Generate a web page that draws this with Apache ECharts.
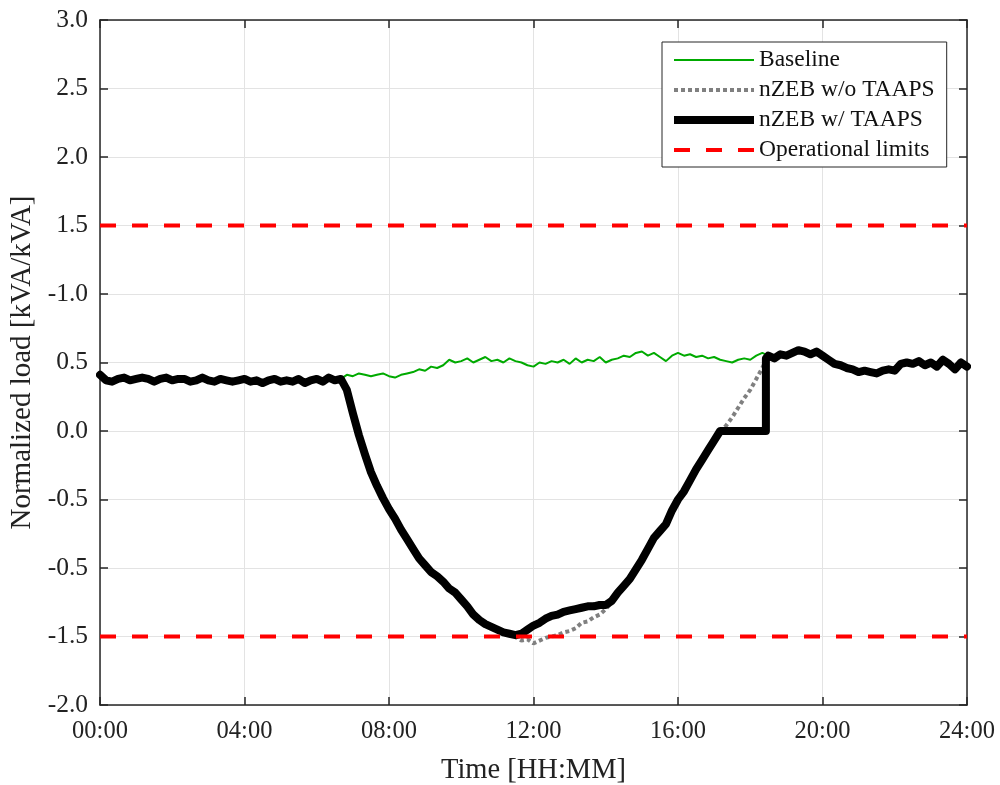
<!DOCTYPE html>
<html>
<head>
<meta charset="utf-8">
<script src="https://cdn.jsdelivr.net/npm/echarts@6/dist/echarts.min.js"></script>
<style>html,body{margin:0;padding:0;background:#fff;}#c{width:1000px;height:785px;}</style>
</head>
<body>
<div id="c"></div>
<script>
// Sampling: every 10 minutes from 00:00 to 24:00 (145 samples)
const stepMinutes = 10;
const xTickLabels = ['00:00','04:00','08:00','12:00','16:00','20:00','24:00'];
const yTickLabels = ['-2.0','-1.5','-0.5','-0.5','0.0','0.5','-1.0','1.5','2.0','2.5','3.0'];
const limitValues = [1.5, -1.5];

const baselineValues = [
0.41,0.37,0.36,0.38,0.39,0.37,0.38,0.39,0.38,0.36,0.38,0.39,0.37,0.38,0.38,0.36,0.37,0.39,0.37,0.36,
0.38,0.37,0.36,0.37,0.38,0.36,0.37,0.35,0.37,0.38,0.36,0.37,0.36,0.38,0.35,0.37,0.38,0.36,0.39,0.37,
0.38,0.41,0.40,0.42,0.41,0.40,0.41,0.42,0.40,0.39,0.41,0.42,0.43,0.45,0.44,0.47,0.46,0.48,0.52,0.50,
0.51,0.53,0.50,0.52,0.54,0.51,0.52,0.50,0.53,0.51,0.50,0.48,0.47,0.50,0.49,0.51,0.50,0.52,0.49,0.53,
0.50,0.52,0.51,0.54,0.50,0.52,0.53,0.55,0.54,0.57,0.58,0.55,0.57,0.54,0.51,0.55,0.57,0.55,0.56,0.54,
0.55,0.53,0.54,0.52,0.51,0.50,0.52,0.53,0.52,0.55,0.57,0.55,0.53,0.56,0.55,0.57,0.59,0.58,0.56,0.58,
0.55,0.52,0.49,0.48,0.46,0.45,0.43,0.44,0.43,0.42,0.44,0.45,0.44,0.49,0.50,0.49,0.51,0.48,0.50,0.47,
0.52,0.49,0.45,0.50,0.47];

const withoutTaapsValues = [
0.41,0.37,0.36,0.38,0.39,0.37,0.38,0.39,0.38,0.36,0.38,0.39,0.37,0.38,0.38,0.36,0.37,0.39,0.37,0.36,
0.38,0.37,0.36,0.37,0.38,0.36,0.37,0.35,0.37,0.38,0.36,0.37,0.36,0.38,0.35,0.37,0.38,0.36,0.39,0.37,
0.38,0.30,0.13,-0.03,-0.17,-0.30,-0.40,-0.49,-0.57,-0.64,-0.72,-0.79,-0.86,-0.93,-0.98,-1.03,-1.06,-1.10,-1.15,-1.18,
-1.23,-1.28,-1.34,-1.38,-1.41,-1.43,-1.45,-1.47,-1.48,-1.50,-1.53,-1.52,-1.55,-1.53,-1.51,-1.50,-1.49,-1.47,-1.46,-1.44,
-1.40,-1.39,-1.36,-1.34,-1.30,-1.25,-1.18,-1.13,-1.08,-1.01,-0.94,-0.86,-0.78,-0.73,-0.68,-0.58,-0.50,-0.44,-0.36,-0.28,
-0.21,-0.14,-0.07,0.00,0.04,0.10,0.17,0.24,0.30,0.38,0.46,0.55,0.53,0.56,0.55,0.57,0.59,0.58,0.56,0.58,
0.55,0.52,0.49,0.48,0.46,0.45,0.43,0.44,0.43,0.42,0.44,0.45,0.44,0.49,0.50,0.49,0.51,0.48,0.50,0.47,
0.52,0.49,0.45,0.50,0.47];

const withTaapsValues = [
0.41,0.37,0.36,0.38,0.39,0.37,0.38,0.39,0.38,0.36,0.38,0.39,0.37,0.38,0.38,0.36,0.37,0.39,0.37,0.36,
0.38,0.37,0.36,0.37,0.38,0.36,0.37,0.35,0.37,0.38,0.36,0.37,0.36,0.38,0.35,0.37,0.38,0.36,0.39,0.37,
0.38,0.30,0.13,-0.03,-0.17,-0.30,-0.40,-0.49,-0.57,-0.64,-0.72,-0.79,-0.86,-0.93,-0.98,-1.03,-1.06,-1.10,-1.15,-1.18,
-1.23,-1.28,-1.34,-1.38,-1.41,-1.43,-1.45,-1.47,-1.48,-1.49,-1.48,-1.45,-1.42,-1.40,-1.37,-1.35,-1.34,-1.32,-1.31,-1.30,
-1.29,-1.28,-1.28,-1.27,-1.27,-1.24,-1.18,-1.13,-1.08,-1.01,-0.94,-0.86,-0.78,-0.73,-0.68,-0.58,-0.50,-0.44,-0.36,-0.28,
-0.21,-0.14,-0.07,0.00,0.00,0.00,0.00,0.00,0.00,0.00,0.00,0.55,0.53,0.56,0.55,0.57,0.59,0.58,0.56,0.58,
0.55,0.52,0.49,0.48,0.46,0.45,0.43,0.44,0.43,0.42,0.44,0.45,0.44,0.49,0.50,0.49,0.51,0.48,0.50,0.47,
0.52,0.49,0.45,0.50,0.47];
// vertical release step of the TAAPS curve at 18:26
const withTaapsStep = [[1106, 0.00], [1106, 0.53]];

function toPairs(vals) { return vals.map((v, i) => [i * stepMinutes, v]); }
const withTaapsData = toPairs(withTaapsValues);
withTaapsData.splice(111, 0, ...withTaapsStep);

const FONT = "'Liberation Serif', 'Times New Roman', serif";
const AX = '#262626';
const GREEN = '#00AA00', GRAY = '#808080', BLACK = '#000000', RED = '#FF0000';

const chart = echarts.init(document.getElementById('c'), null, {renderer: 'canvas'});
const axisCommon = {
  axisLine: {show: true, onZero: false, lineStyle: {color: AX, width: 1.5}},
  axisTick: {show: true, inside: true, length: 8, lineStyle: {color: AX, width: 1.5}}
};
chart.setOption({
  animation: false,
  backgroundColor: '#fff',
  grid: {left: 100, right: 33, top: 20, bottom: 80, containLabel: false, outerBoundsMode: 'none'},
  legend: {
    show: true, orient: 'vertical', left: 662, top: 42,
    data: [
      {name: 'Baseline', lineStyle: {color: GREEN, width: 2, type: 'solid'}},
      {name: 'nZEB w/o TAAPS', lineStyle: {color: GRAY, width: 4, type: [4, 3]}},
      {name: 'nZEB w/ TAAPS', lineStyle: {color: BLACK, width: 8, type: 'solid', cap: 'butt'}},
      {name: 'Operational limits', lineStyle: {color: RED, width: 4, type: [16, 16]}}
    ],
    itemWidth: 80, itemHeight: 22, itemGap: 6,
    itemStyle: {opacity: 0},
    padding: [6, 12, 5, 8],
    backgroundColor: '#fff', borderColor: AX, borderWidth: 1, borderRadius: 0,
    selectedMode: false,
    textStyle: {fontFamily: FONT, fontSize: 23.5, color: '#111'}
  },
  xAxis: [
    Object.assign({
      type: 'value', min: 0, max: 1440, interval: 240,
      name: 'Time [HH:MM]', nameLocation: 'middle', nameGap: 51,
      nameTextStyle: {fontFamily: FONT, fontSize: 28.5, color: '#222'},
      axisLabel: {fontFamily: FONT, fontSize: 24.5, color: '#222', margin: 14,
        formatter: v => xTickLabels[Math.round(v / 240)]},
      splitLine: {show: true, lineStyle: {color: '#e3e3e3', width: 1}}
    }, axisCommon),
    Object.assign({
      type: 'value', min: 0, max: 1440, interval: 240, position: 'top',
      axisLabel: {show: false}, splitLine: {show: false}
    }, axisCommon)
  ],
  yAxis: [
    Object.assign({
      type: 'value', min: -2, max: 3, interval: 0.5,
      name: 'Normalized load [kVA/kVA]', nameLocation: 'middle', nameGap: 60,
      nameTextStyle: {fontFamily: FONT, fontSize: 29, color: '#222'},
      axisLabel: {fontFamily: FONT, fontSize: 25.5, color: '#222', margin: 12,
        formatter: v => yTickLabels[Math.round((v + 2) / 0.5)]},
      splitLine: {show: true, lineStyle: {color: '#e3e3e3', width: 1}}
    }, axisCommon),
    Object.assign({
      type: 'value', min: -2, max: 3, interval: 0.5, position: 'right',
      axisLabel: {show: false}, splitLine: {show: false}
    }, axisCommon)
  ],
  series: [
    {name: 'Baseline', type: 'line', data: toPairs(baselineValues), symbol: 'none',
     lineStyle: {color: GREEN, width: 2}, itemStyle: {color: GREEN}},
    {name: 'nZEB w/o TAAPS', type: 'line', data: toPairs(withoutTaapsValues), symbol: 'none',
     lineStyle: {color: GRAY, width: 4, type: [4, 3]}, itemStyle: {color: GRAY}},
    {name: 'nZEB w/ TAAPS', type: 'line', data: withTaapsData, symbol: 'none',
     lineStyle: {color: BLACK, width: 8, join: 'round', cap: 'round'}, itemStyle: {color: BLACK}},
    {name: 'Operational limits', type: 'line', data: [[0, limitValues[0]], [1440, limitValues[0]]], symbol: 'none',
     lineStyle: {color: RED, width: 4, type: [16, 16]}, itemStyle: {color: RED}},
    {name: 'Operational limits', type: 'line', data: [[0, limitValues[1]], [1440, limitValues[1]]], symbol: 'none',
     lineStyle: {color: RED, width: 4, type: [16, 16]}, itemStyle: {color: RED}}
  ]
});
</script>
</body>
</html>
